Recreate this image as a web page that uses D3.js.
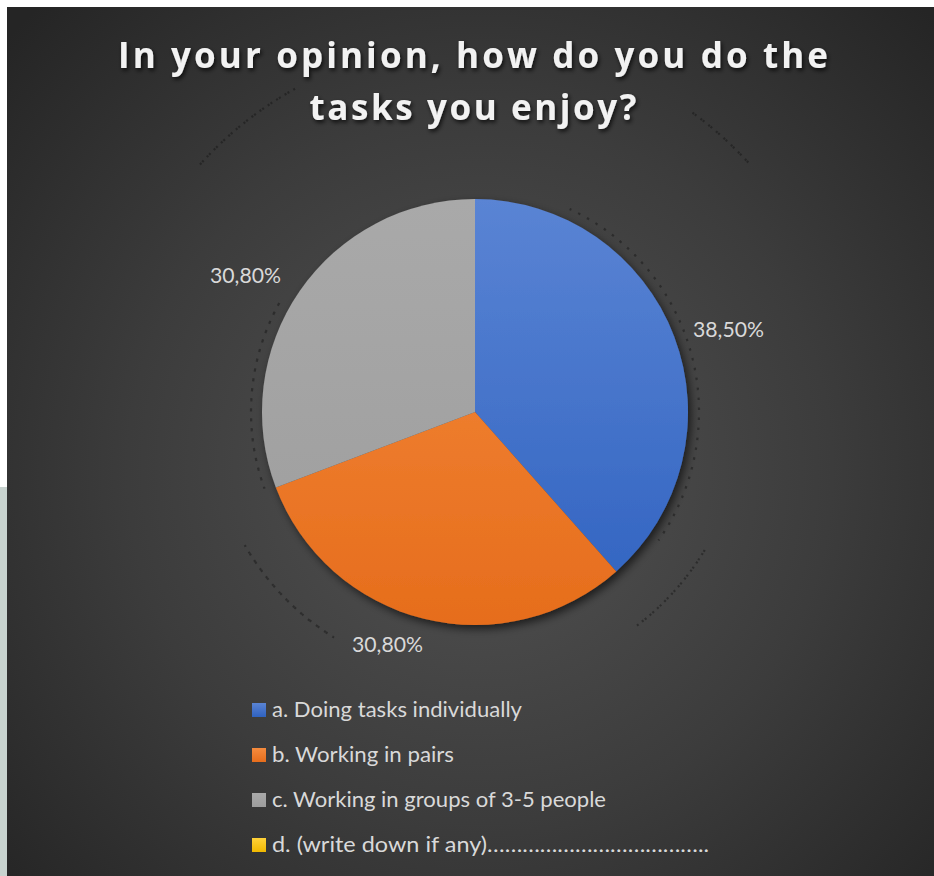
<!DOCTYPE html>
<html>
<head>
<meta charset="utf-8">
<script src="https://cdn.jsdelivr.net/npm/d3@7"></script>
<style>
  html, body { margin: 0; padding: 0; background: #ffffff; }
  svg { display: block; }
</style>
</head>
<body>
<svg id="chart" width="934" height="876"></svg>
<script>
// Survey answers and their shares (percent)
const categories = [
  "a. Doing tasks individually",
  "b. Working in pairs",
  "c. Working in groups of 3-5 people",
  "d. (write down if any)……………………………….."
];
const values = [38.5, 30.8, 30.8, 0];
const valueLabels = ["38,50%", "30,80%", "30,80%", ""];
const titleLines = ["In your opinion, how do you do the", "tasks you enjoy?"];

const colorTop = ["#5a84d4", "#f58b3e", "#a9a9a9", "#ffd23a"];
const colorBottom = ["#2f62c0", "#e66d1c", "#9d9d9d", "#f0b800"];

const W = 934, H = 876;
const svg = d3.select("#chart");
const defs = svg.append("defs");

// page frame around the chart
svg.append("rect").attr("x", 0).attr("y", 487).attr("width", 8).attr("height", H - 487).attr("fill", "#c8d3cf");

// chart background: dark radial gradient
const bg = defs.append("radialGradient").attr("id", "bg")
  .attr("gradientUnits", "userSpaceOnUse")
  .attr("cx", 480).attr("cy", 470).attr("r", 640);
bg.append("stop").attr("offset", 0).attr("stop-color", "#535353");
bg.append("stop").attr("offset", 0.55).attr("stop-color", "#3c3c3c");
bg.append("stop").attr("offset", 1).attr("stop-color", "#252525");
svg.append("rect").attr("x", 7).attr("y", 7).attr("width", W - 7).attr("height", H - 7).attr("fill", "url(#bg)");

// slice gradients
categories.forEach((c, i) => {
  const g = defs.append("linearGradient").attr("id", "g" + i)
    .attr("gradientUnits", "userSpaceOnUse")
    .attr("x1", 0).attr("y1", -213).attr("x2", 0).attr("y2", 213);
  g.append("stop").attr("offset", 0).attr("stop-color", colorTop[i]);
  g.append("stop").attr("offset", 1).attr("stop-color", colorBottom[i]);
});

// soft shadow under the pie
const sh = defs.append("filter").attr("id", "shadow").attr("x", "-20%").attr("y", "-20%").attr("width", "140%").attr("height", "140%");
sh.append("feDropShadow").attr("dx", 3).attr("dy", 4).attr("stdDeviation", 4)
  .attr("flood-color", "#000").attr("flood-opacity", 0.6);

const ts = defs.append("filter").attr("id", "tshadow").attr("x", "-10%").attr("y", "-30%").attr("width", "120%").attr("height", "160%");
ts.append("feDropShadow").attr("dx", 1.5).attr("dy", 2.5).attr("stdDeviation", 2)
  .attr("flood-color", "#000").attr("flood-opacity", 0.75);

const cx = 475, cy = 412, R = 213;

// faint dotted rings behind the pie (angles in degrees, clockwise from 12 o'clock)
const rings = [
  { r: 370, a0: -48, a1: -29 },
  { r: 370, a0: 36, a1: 48 },
  { r: 266, a0: 212, a1: 240 },
  { r: 268, a0: 121, a1: 143 },
  { r: 224, a0: 25, a1: 125 },
  { r: 224, a0: 250, a1: 300 }
];
const rad = Math.PI / 180;
const ringArc = d3.arc();
svg.append("g").attr("transform", `translate(${cx},${cy})`)
  .selectAll("path").data(rings).join("path")
  .attr("d", d => ringArc({ innerRadius: d.r, outerRadius: d.r, startAngle: d.a0 * rad, endAngle: d.a1 * rad }))
  .attr("fill", "none").attr("stroke", "#111").attr("stroke-opacity", 0.45)
  .attr("stroke-width", 2.2).attr("stroke-dasharray", "2 8");

// title
const title = svg.append("g").attr("filter", "url(#tshadow)");
const titleY = [68, 120];
const titleW = [710, 327];
titleLines.forEach((t, i) => {
  title.append("text")
    .attr("x", 473).attr("y", titleY[i])
    .attr("text-anchor", "middle")
    .attr("font-family", "'Open Sans', sans-serif")
    .attr("font-weight", 700).attr("font-size", 35)
    .attr("fill", "#f2f2f2")
    .attr("textLength", titleW[i]).attr("lengthAdjust", "spacing")
    .text(t);
});

// pie
const pie = d3.pie().sort(null).value(d => d);
const arcs = pie(values);
const arc = d3.arc().innerRadius(0).outerRadius(R);
const pg = svg.append("g").attr("transform", `translate(${cx},${cy})`);
pg.append("g").attr("filter", "url(#shadow)")
  .selectAll("path").data(arcs.filter(d => d.value > 0)).join("path")
  .attr("d", arc)
  .attr("fill", d => `url(#g${d.index})`);

// data labels outside the slices, anchored at their left edge
const labelFont = "Lato, 'Open Sans', sans-serif";
const labelPos = [[218, -75], [-123, 240], [-265, -129]];
arcs.forEach((d, i) => {
  if (!valueLabels[i]) return;
  pg.append("text")
    .attr("x", labelPos[i][0]).attr("y", labelPos[i][1])
    .attr("font-family", labelFont).attr("font-size", 21)
    .attr("fill", "#d9d9d9")
    .attr("textLength", 71).attr("lengthAdjust", "spacingAndGlyphs")
    .text(valueLabels[i]);
});

// legend
const legendY = [710, 755, 800, 845];
const legendW = [250, 182, 334, 437];
const lg = svg.append("g");
categories.forEach((c, i) => {
  const g = defs.append("linearGradient").attr("id", "lg" + i).attr("x1", 0).attr("y1", 0).attr("x2", 0).attr("y2", 1);
  g.append("stop").attr("offset", 0).attr("stop-color", colorTop[i]);
  g.append("stop").attr("offset", 1).attr("stop-color", colorBottom[i]);
  const row = lg.append("g").attr("transform", `translate(252,${legendY[i]})`);
  row.append("rect").attr("x", 0).attr("y", -7).attr("width", 14).attr("height", 14)
    .attr("fill", `url(#lg${i})`);
  row.append("text")
    .attr("x", 20).attr("y", 7)
    .attr("font-family", labelFont).attr("font-size", 21)
    .attr("fill", "#d9d9d9")
    .attr("textLength", legendW[i]).attr("lengthAdjust", "spacingAndGlyphs")
    .text(c);
});
</script>
</body>
</html>
